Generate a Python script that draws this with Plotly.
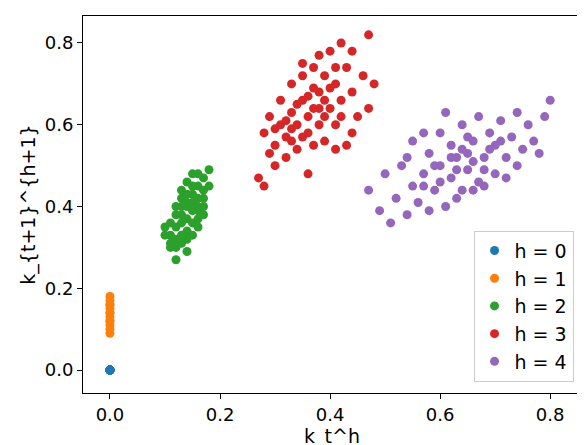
import plotly.graph_objects as go

labels = ["h = 0", "h = 1", "h = 2", "h = 3", "h = 4"]
colors = ["#1f77b4", "#ff7f0e", "#2ca02c", "#d62728", "#9467bd"]

h0_x = [0.0] * 10
h0_y = [0.0] * 10

h1_y = [0.09, 0.10, 0.11, 0.12, 0.13, 0.14, 0.15, 0.16, 0.17, 0.18, 0.12, 0.14, 0.16]
h1_x = [0.0] * len(h1_y)

h2 = [(0.10, 0.33), (0.11, 0.30), (0.12, 0.27), (0.12, 0.35), (0.13, 0.31), (0.13, 0.38),
      (0.14, 0.34), (0.14, 0.40), (0.15, 0.36), (0.15, 0.43), (0.16, 0.39), (0.16, 0.45),
      (0.17, 0.42), (0.17, 0.47), (0.18, 0.49), (0.11, 0.36), (0.12, 0.40), (0.13, 0.44),
      (0.14, 0.46), (0.15, 0.48), (0.16, 0.35), (0.17, 0.38), (0.14, 0.29), (0.13, 0.33),
      (0.15, 0.41), (0.12, 0.32), (0.16, 0.42), (0.11, 0.33), (0.14, 0.37), (0.15, 0.39),
      (0.13, 0.42), (0.17, 0.44), (0.10, 0.35), (0.16, 0.48), (0.18, 0.45), (0.14, 0.43),
      (0.12, 0.38), (0.15, 0.33), (0.13, 0.36), (0.16, 0.40), (0.12, 0.30), (0.14, 0.32),
      (0.15, 0.45), (0.16, 0.37), (0.17, 0.40), (0.13, 0.40), (0.11, 0.31), (0.14, 0.41)]

h3 = [(0.27, 0.47), (0.28, 0.45), (0.28, 0.58), (0.29, 0.62), (0.30, 0.50), (0.30, 0.55),
      (0.31, 0.60), (0.31, 0.66), (0.32, 0.52), (0.32, 0.57), (0.33, 0.63), (0.33, 0.70),
      (0.34, 0.54), (0.34, 0.60), (0.35, 0.66), (0.35, 0.72), (0.36, 0.48), (0.36, 0.58),
      (0.37, 0.64), (0.37, 0.74), (0.38, 0.60), (0.38, 0.68), (0.39, 0.56), (0.39, 0.72),
      (0.40, 0.64), (0.40, 0.78), (0.41, 0.60), (0.41, 0.70), (0.42, 0.66), (0.42, 0.80),
      (0.43, 0.55), (0.43, 0.74), (0.44, 0.68), (0.44, 0.78), (0.45, 0.62), (0.46, 0.72),
      (0.47, 0.64), (0.47, 0.82), (0.48, 0.70), (0.38, 0.77), (0.35, 0.75), (0.41, 0.54),
      (0.29, 0.53), (0.33, 0.56), (0.36, 0.67), (0.39, 0.62), (0.44, 0.58), (0.42, 0.62),
      (0.30, 0.59), (0.37, 0.55), (0.34, 0.65), (0.36, 0.62), (0.38, 0.64), (0.40, 0.69),
      (0.32, 0.61), (0.35, 0.57), (0.39, 0.66), (0.41, 0.74), (0.37, 0.69), (0.33, 0.59)]

h4 = [(0.47, 0.44), (0.49, 0.39), (0.50, 0.48), (0.51, 0.36), (0.52, 0.42), (0.53, 0.50),
      (0.54, 0.38), (0.55, 0.45), (0.55, 0.56), (0.56, 0.41), (0.57, 0.48), (0.58, 0.53),
      (0.59, 0.44), (0.60, 0.50), (0.60, 0.58), (0.61, 0.40), (0.62, 0.47), (0.62, 0.55),
      (0.63, 0.52), (0.64, 0.44), (0.64, 0.60), (0.65, 0.49), (0.66, 0.56), (0.67, 0.46),
      (0.67, 0.62), (0.68, 0.52), (0.69, 0.58), (0.70, 0.48), (0.70, 0.55), (0.71, 0.61),
      (0.72, 0.52), (0.73, 0.57), (0.74, 0.63), (0.75, 0.54), (0.76, 0.60), (0.77, 0.56),
      (0.78, 0.53), (0.79, 0.62), (0.80, 0.66), (0.58, 0.39), (0.63, 0.42), (0.66, 0.44),
      (0.72, 0.47), (0.57, 0.58), (0.61, 0.63), (0.54, 0.52), (0.68, 0.45), (0.65, 0.53),
      (0.59, 0.50), (0.74, 0.50), (0.60, 0.46), (0.63, 0.49), (0.66, 0.51), (0.69, 0.54),
      (0.62, 0.52), (0.65, 0.57), (0.68, 0.49), (0.71, 0.56), (0.57, 0.45), (0.64, 0.54)]

series = [
    (h0_x, h0_y),
    (h1_x, h1_y),
    ([p[0] for p in h2], [p[1] for p in h2]),
    ([p[0] for p in h3], [p[1] for p in h3]),
    ([p[0] for p in h4], [p[1] for p in h4]),
]

fig = go.Figure()
for (xs, ys), name, c in zip(series, labels, colors):
    fig.add_trace(go.Scatter(x=xs, y=ys, mode="markers", name=name,
                             marker=dict(color=c, size=9, line=dict(width=0))))

axis = dict(showgrid=False, zeroline=False, showline=True, linecolor="black", mirror=True,
            ticks="outside", ticklen=5, tickcolor="black", tickfont=dict(size=18),
            automargin=False)
fig.update_layout(
    width=585, height=445, margin=dict(l=75, r=12, t=8, b=60),
    plot_bgcolor="white", paper_bgcolor="white",
    font=dict(family="DejaVu Sans", color="black", size=19),
    xaxis=dict(axis, range=[-0.049, 0.856], tickvals=[0, 0.2, 0.4, 0.6, 0.8],
               ticktext=["0.0", "0.2", "0.4", "0.6", "0.8"],
               title=dict(text="k_t^h", standoff=2, font=dict(size=19))),
    yaxis=dict(axis, range=[-0.056, 0.866], tickvals=[0, 0.2, 0.4, 0.6, 0.8],
               ticktext=["0.0", "0.2", "0.4", "0.6", "0.8"],
               title=dict(text="k_{t+1}^{h+1}", standoff=4, font=dict(size=19))),
    legend=dict(x=0.985, y=0.03, xanchor="right", yanchor="bottom",
                bordercolor="#cccccc", borderwidth=1, bgcolor="rgba(255,255,255,0.8)",
                font=dict(size=19), tracegroupgap=4),
)
fig.write_html("out.html")
